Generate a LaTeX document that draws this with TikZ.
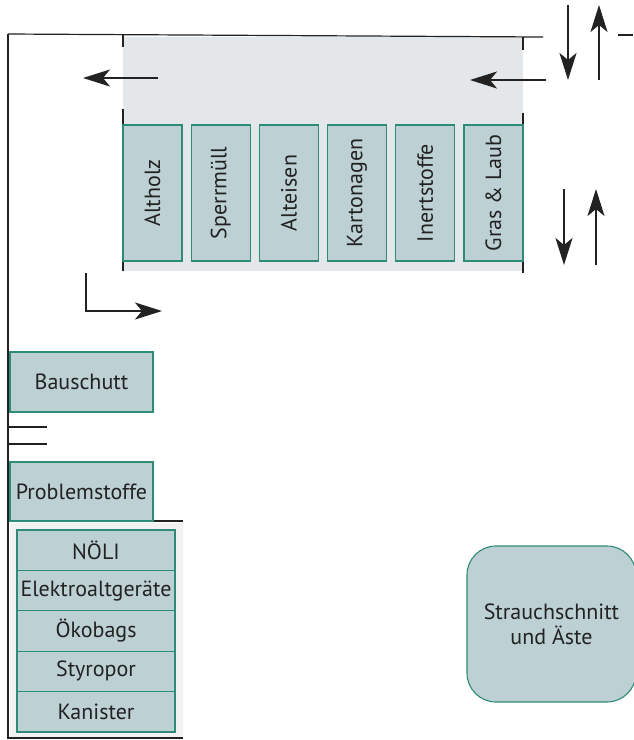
\documentclass[tikz,border=0pt]{standalone}
\usepackage{fontspec}
\setmainfont{PT Sans}
\usetikzlibrary{arrows.meta}
\definecolor{binfill}{HTML}{BDD0D4}
\definecolor{binline}{HTML}{2E8B77}
\definecolor{areagray}{HTML}{E4E7EA}
\definecolor{inkline}{HTML}{222222}
\begin{document}
\begin{tikzpicture}[x=1pt, y=-1pt,
		bin/.style={draw=binline, fill=binfill, line width=1.1pt, inner sep=0pt,
			font=\fontsize{22}{25}\selectfont, text=inkline},
		col/.style={bin, rotate=90, minimum width=136pt, minimum height=59pt},
		stackrow/.style={bin, minimum width=158pt, minimum height=40.4pt},
		flow/.style={-{Stealth[length=27pt, width=17pt, inset=7pt]}, inkline, line width=2.2pt},
		frame/.style={inkline, line width=1.2pt}]
		\useasboundingbox (0, 0) rectangle (633, 740);

		% grey areas behind the bins
		\fill[areagray]		(123, 37) rectangle (523, 271);
		\fill[gray!10]		(10, 523) rectangle (183, 737);

		% frame lines
		\draw[frame]	(8, 34) -- (543, 37);
		\draw[frame]	(8, 34) -- (8, 739);
		\draw[frame]	(8, 738) -- (183, 738);
		\draw[frame]	(8, 521) -- (183, 521);
		\draw[frame]	(8, 427) -- (47, 427)
						(8, 444) -- (47, 444);
		\draw[frame]	(618, 35) -- (633, 35);
		\draw[frame]	(123, 34) -- (123, 47)
						(123, 109) -- (123, 125)
						(123, 261) -- (123, 271);
		\draw[frame]	(523, 37) -- (523, 50)
						(523, 113) -- (523, 127)
						(523, 262) -- (523, 273);

		% containers along the top
		\node[col] (altholz)	at (152.5, 193) {Altholz};
		\node[col] (sperr)		at (220.7, 193) {Sperrmüll};
		\node[col] (alteisen)	at (288.9, 193) {Alteisen};
		\node[col] (karton)		at (357.1, 193) {Kartonagen};
		\node[col] (inert)		at (425.3, 193) {Inertstoffe};
		\node[col] (gras)		at (493.5, 193) {Gras \& Laub};

		% containers on the left
		\node[bin, minimum width=143pt, minimum height=60pt] (bauschutt)	at (81.5, 382) {Bauschutt};
		\node[bin, minimum width=143pt, minimum height=59pt] (problem)		at (81.5, 491.5) {Problemstoffe};

		\node[stackrow] (noeli)		at (96, 550.2) {NÖLI};
		\node[stackrow] (elektro)	at (96, 590.6) {Elektroaltgeräte};
		\node[stackrow] (oeko)		at (96, 631) {Ökobags};
		\node[stackrow] (styro)		at (96, 671.4) {Styropor};
		\node[stackrow] (kanister)	at (96, 711.8) {Kanister};

		\node[bin, rounded corners=29pt, minimum width=169pt, minimum height=156pt,
			align=center] (strauch)	at (551.5, 624) {Strauchschnitt\\und Äste};

		% driving directions
		\coordinate (inA)	at (546, 80);
		\coordinate (inB)	at (470, 80);
		\coordinate (outA)	at (158, 78);
		\coordinate (outB)	at (83, 78);
		\draw[flow]	(inA) -- (inB);
		\draw[flow]	(outA) -- (outB);

		\draw[flow]	(568, 5) -- (568, 80);
		\draw[flow]	(599, 80) -- (599, 5);
		\draw[flow]	(564, 189) -- (564, 265);
		\draw[flow]	(596, 265) -- (596, 189);

		\draw[flow]	(86, 273) -- (86, 311) -- (162, 311);
	\end{tikzpicture}
\end{document}
